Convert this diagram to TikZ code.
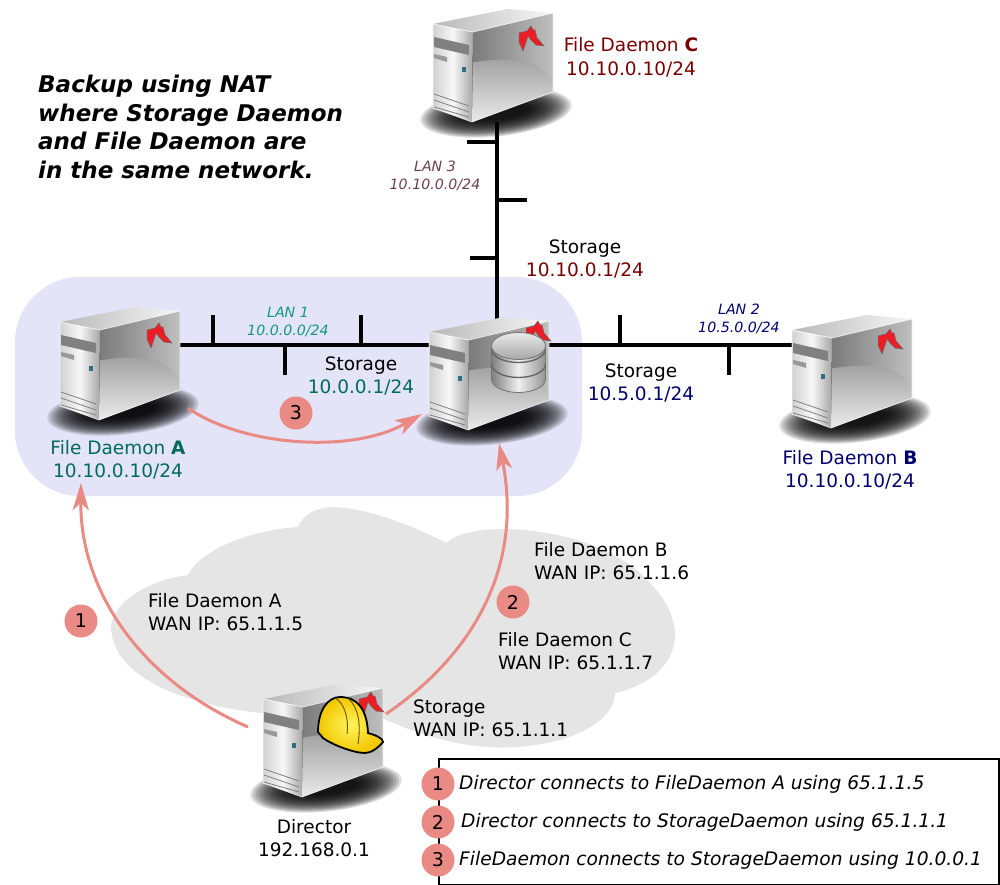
\documentclass[tikz,border=0pt]{standalone}
\usepackage{fontspec}
\setmainfont{DejaVu Sans}
\usetikzlibrary{arrows.meta}
\definecolor{salmon}{HTML}{E98A84}
\definecolor{lanbg}{HTML}{E4E4F8}
\definecolor{cloudgray}{HTML}{E5E5E5}
\definecolor{fdAcol}{HTML}{006B5B}
\definecolor{fdBcol}{HTML}{00006E}
\definecolor{fdCcol}{HTML}{780000}
\definecolor{lanAcol}{HTML}{12987F}
\definecolor{lanCcol}{HTML}{6B3F4F}
\definecolor{batred}{HTML}{EE1C25}
\definecolor{hatlight}{HTML}{FFF35C}
\definecolor{hatdark}{HTML}{F2C800}
\definecolor{hatridge}{HTML}{6E5200}
\definecolor{ledcol}{HTML}{2F6F80}
\tikzset{
  srvbox/.style={minimum width=120pt,minimum height=113pt,inner sep=0pt},
  net/.style={line width=4pt,black},
  flow/.style={line width=3pt,salmon,-{Stealth[length=27pt,width=16pt,inset=7pt]}},
  lbl/.style={font=\fontsize{18.5}{23.4}\selectfont,inner sep=0pt,align=center},
  lblw/.style={font=\fontsize{18.5}{23.4}\selectfont,inner sep=0pt,align=left,anchor=west},
  lan/.style={font=\fontsize{14.2}{18}\selectfont\itshape,inner sep=0pt,align=center},
  num/.style={circle,fill=salmon,minimum size=33pt,inner sep=0pt,font=\fontsize{19}{23}\selectfont},
  keytxt/.style={font=\fontsize{18.65}{23}\selectfont\itshape,inner sep=0pt,anchor=west},
  pics/server/.style={code={
    \foreach \i in {0,...,17}{
      \pgfmathsetmacro\r{76-2.6*\i}
      \pgfmathsetmacro\s{24-\i}
      \fill[black,opacity=.13] (3,47) ellipse [x radius=\r pt,y radius=\s pt,rotate=6];
    }
    \shade[left color=black!28,right color=black!3] (-60,-41.5) -- (15,-56.5) -- (60,-52.5) -- (-20,-33.5) -- cycle;
    \shade[left color=black!18,right color=black!35,middle color=black!3] (-60,-41.5) -- (-20,-33.5) -- (-21,56.5) -- (-60,42.5) -- cycle;
    \shade[left color=black!52,right color=black!25] (-20,-33.5) -- (60,-52.5) -- (60,26.5) -- (-21,56.5) -- cycle;
    \shade[top color=black!38,bottom color=black!8] (-20,-3) .. controls (20,-10) and (50,-5) .. (60,18) -- (60,26.5) -- (-21,56.5) -- cycle;
    \draw[white,line width=.8pt,opacity=.7] (-60,-41.5) -- (-20,-33.5) -- (60,-52.5) -- (60,26.5) -- (-21,56.5) -- (-60,42.5) -- cycle;
    \fill[black!50] (-59,-28.5) -- (-24,-20.5) -- (-24,-10.5) -- (-59,-18.5) -- cycle;
    \fill[black!40] (-59,-11.5) -- (-46,-8.5) -- (-46,-3.5) -- (-59,-7.5) -- cycle;
    \fill[ledcol] (-31,2) rectangle (-27,7);
    \foreach \a/\b in {28.5/40.5,34.5/46.5,41.5/51.5}
      \draw[black!50,line width=.8pt] (-59,\a) -- (-24,\b);
  }},
  pics/bat/.style={code={
    \fill[batred,draw=black!60,line width=.5pt] (-12,-5) -- (-4,-7) -- (0,-12) -- (2,-8) -- (4,-8)
      -- (6,0) -- (13,8) -- (5,7) -- (0,2) -- (-3,-2) -- (-8,13) -- (-12,4) -- cycle;
  }},
  pics/dbstack/.style={code={
    \shade[left color=black!50,right color=black!42,middle color=black!6,draw=black!55,line width=.8pt]
      (-27,-14) -- (-27,19) arc [start angle=180,end angle=360,x radius=27pt,y radius=13.5pt] -- (27,-14) -- cycle;
    \foreach \a in {3,18}
      \draw[black!60,line width=1.4pt] (-27,\a-14) arc [start angle=180,end angle=360,x radius=27pt,y radius=13.5pt];
    \shade[top color=black!8,bottom color=black!35,draw=black!55,line width=.8pt] (0,-14) ellipse [x radius=27pt,y radius=13.5pt];
  }},
  pics/hardhat/.style={code={
    \shade[inner color=hatlight,outer color=hatdark,draw=black,line width=1.8pt]
      (-5,32) .. controls (-5,10) and (5,-3) .. (17,-3) .. controls (35,-3) and (44,10) .. (45,33)
      .. controls (52,35) and (60,38) .. (60,42) .. controls (55,48) and (48,53) .. (42,53)
      .. controls (30,53) and (8,44) .. (0,38) -- cycle;
    \draw[hatridge,line width=.9pt] (12,-2) .. controls (22,3) and (26,20) .. (24,34);
    \draw[hatridge,line width=.9pt] (25,-2) .. controls (36,8) and (38,25) .. (35,44);
  }}
}
\begin{document}
\begin{tikzpicture}[x=1pt,y=-1pt]
\useasboundingbox (0,0) rectangle (1000,885);
\fill[lanbg,rounded corners=65pt] (15,277) rectangle (582,496);
\fill[cloudgray] (111,625) .. controls (115,600) and (150,580) .. (188,575)
  .. controls (200,550) and (250,530) .. (298,527) .. controls (305,510) and (325,505) .. (345,508)
  .. controls (380,512) and (420,530) .. (447,543) .. controls (455,532) and (490,528) .. (510,529)
  .. controls (570,532) and (610,550) .. (633,567) .. controls (660,590) and (675,610) .. (675,637)
  .. controls (673,665) and (650,685) .. (615,693) .. controls (615,720) and (575,740) .. (535,745)
  .. controls (490,752) and (440,745) .. (380,717) .. controls (340,705) and (300,715) .. (260,713)
  .. controls (190,705) and (111,680) .. (111,625) -- cycle;
\node[srvbox] (fdC) at (493,65.5) {};
\node[srvbox] (fdA) at (120,363.5) {};
\node[srvbox] (sd) at (489,373.5) {};
\node[srvbox] (fdB) at (852,371.5) {};
\node[srvbox] (dir) at (323,740.5) {};
\coordinate (jA) at (180,345);
\coordinate (jS) at (429,345);
\coordinate (jT) at (549,345);
\coordinate (jB) at (792,345);
\coordinate (jN) at (497,122);
\coordinate (jM) at (497,322);
\draw[net] (jA) -- (jS);
\draw[net] (jT) -- (jB);
\draw[net] (jN) -- (jM);
\foreach \a/\b/\c/\d in {213/345/213/315,285/345/285/375,361/345/361/315,620/345/620/315,729/345/729/375,497/142/467/142,497/200/527/200,497/258/470/258}{
  \coordinate (ta) at (\a,\b);
  \coordinate (tb) at (\c,\d);
  \draw[net] (ta) -- (tb);
}
\pic at (fdC) {server};
\pic at (fdA) {server};
\pic at (sd) {server};
\pic at (fdB) {server};
\pic at (dir) {server};
\pic at (531,38) {bat};
\pic at (159,335) {bat};
\pic at (538,333) {bat};
\pic at (890,341) {bat};
\pic at (371,704) {bat};
\pic at (518.5,360) {dbstack};
\pic at (323,700) {hardhat};
\coordinate (a1s) at (248,727);
\coordinate (a1e) at (81,483);
\coordinate (a2s) at (386,714);
\coordinate (a2e) at (499,443);
\coordinate (a3s) at (188,408);
\coordinate (a3e) at (422,414);
\draw[flow] (a1s) .. controls (140,680) and (80,590) .. (a1e);
\draw[flow] (a2s) .. controls (480,650) and (522,560) .. (a2e);
\draw[flow] (a3s) .. controls (240,445) and (350,455) .. (a3e);
\node[num] (n1) at (81,621) {1};
\node[num] (n2) at (513,602) {2};
\node[num] (n3) at (296,413) {3};
\node[font=\fontsize{23}{28.6}\selectfont\bfseries\itshape,inner sep=0pt,align=left,anchor=north west] (title) at (38,75)
  {Backup using NAT\\where Storage Daemon\\and File Daemon are\\in the same network.};
\node[lbl,text=fdCcol] (fdClbl) at (631,57.5) {File Daemon \textbf{C}\\10.10.0.10/24};
\node[lbl,text=fdAcol] (fdAlbl) at (118,460) {File Daemon \textbf{A}\\10.10.0.10/24};
\node[lbl,text=fdBcol] (fdBlbl) at (850,470) {File Daemon \textbf{B}\\10.10.0.10/24};
\node[lan,text=lanCcol] (lan3) at (435,176) {LAN 3\\10.10.0.0/24};
\node[lan,text=lanAcol] (lan1) at (288,322) {LAN 1\\10.0.0.0/24};
\node[lan,text=fdBcol] (lan2) at (739,319) {LAN 2\\10.5.0.0/24};
\node[lbl] (st3) at (585,259) {Storage\\\textcolor{fdCcol}{10.10.0.1/24}};
\node[lbl] (st1) at (361,376) {Storage\\\textcolor{fdAcol}{10.0.0.1/24}};
\node[lbl] (st2) at (641,383) {Storage\\\textcolor{fdBcol}{10.5.0.1/24}};
\node[lblw] (wA) at (148,612) {File Daemon A\\WAN IP: 65.1.1.5};
\node[lblw] (wB) at (534,561) {File Daemon B\\WAN IP: 65.1.1.6};
\node[lblw] (wC) at (498,651) {File Daemon C\\WAN IP: 65.1.1.7};
\node[lblw] (wS) at (413,718) {Storage\\WAN IP: 65.1.1.1};
\node[lbl] (dirlbl) at (314,838) {Director\\192.168.0.1};
\node[draw=black,line width=2pt,fill=white,minimum width=560pt,minimum height=126pt,anchor=north west,inner sep=0pt] (legend) at (438,758) {};
\node[num] (k1) at (438,784) {1};
\node[num] (k2) at (438,822) {2};
\node[num] (k3) at (438,860) {3};
\node[keytxt] (t1) at (459,784) {Director connects to FileDaemon A using 65.1.1.5};
\node[keytxt] (t2) at (461,822) {Director connects to StorageDaemon using 65.1.1.1};
\node[keytxt] (t3) at (459,860) {FileDaemon connects to StorageDaemon using 10.0.0.1};
\end{tikzpicture}
\end{document}
